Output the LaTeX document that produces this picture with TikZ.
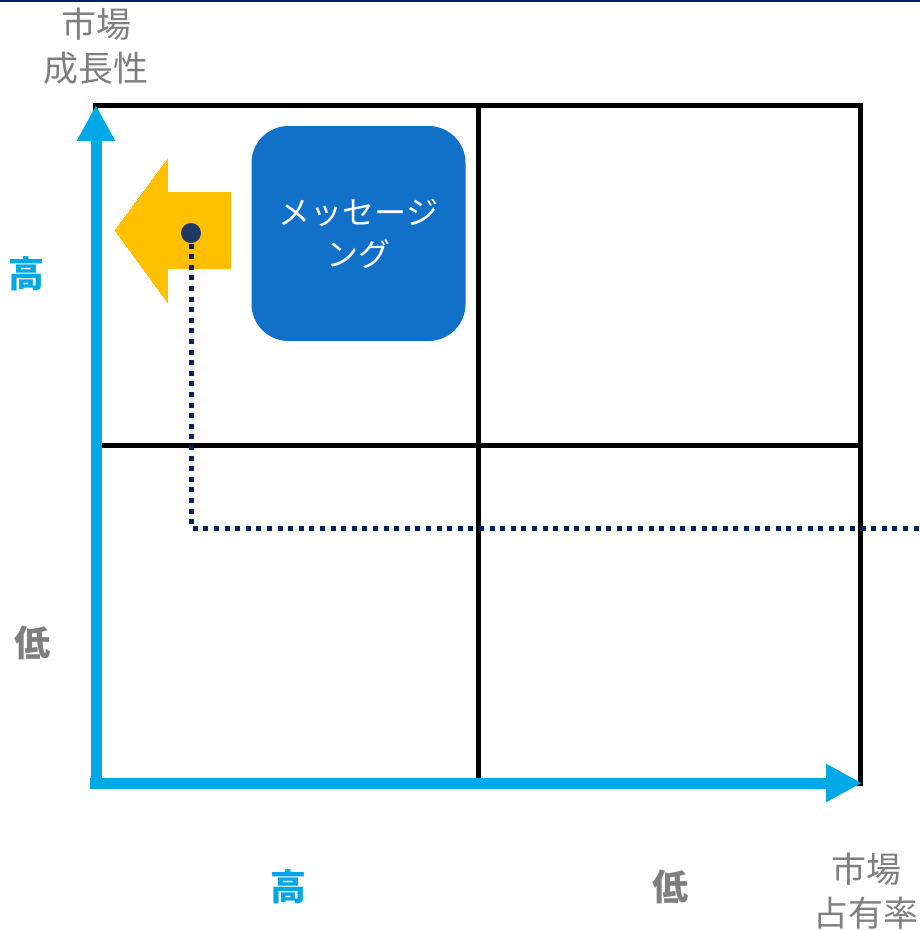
\documentclass[tikz,border=0pt]{standalone}
\usepackage{fontspec}
\usepackage{xcolor}
\usepackage{tikz}
\usetikzlibrary{arrows.meta}
\newfontfamily\jpfont{Noto Sans CJK JP}
\definecolor{axiscyan}{RGB}{0,168,230}
\definecolor{boxblue}{RGB}{17,112,200}
\definecolor{arrowyellow}{RGB}{255,192,0}
\definecolor{dotnavy}{RGB}{31,56,100}
\definecolor{linenavy}{RGB}{0,32,96}
\definecolor{labelgray}{RGB}{127,127,127}

\begin{document}
\begin{tikzpicture}[x=1pt,y=-1pt,
		axisarrow/.style={axiscyan,line width=11pt,-{Triangle[length=36pt,width=36pt]}},
		gridline/.style={black,line width=5pt},
		axistext/.style={font=\jpfont\fontsize{35}{44}\selectfont,text=labelgray,align=center,inner sep=0pt},
		levelhigh/.style={font=\jpfont\bfseries\fontsize{36}{36}\selectfont,text=axiscyan,inner sep=0pt},
		levellow/.style={font=\jpfont\bfseries\fontsize{36}{36}\selectfont,text=labelgray,inner sep=0pt},
		msgbox/.style={fill=boxblue,rounded corners=37pt,minimum width=214pt,minimum height=215pt,
			text=white,align=center,font=\jpfont\fontsize{32}{42}\selectfont,
			preaction={draw=white,line width=12pt,rounded corners=37pt}}]
	% 背景
	\useasboundingbox (0,0) rectangle (920,930);
	\fill[white] (0,0) rectangle (920,930);
	\fill[linenavy] (0,0) rectangle (920,2);
	% 枠
	\coordinate (nw) at (95,105);
	\coordinate (se) at (860,783);
	\draw[gridline] (nw) rectangle (se);
	\draw[gridline] (478,105) -- (478,783);
	\draw[gridline] (95,445) -- (860,445);
	% 軸
	\coordinate (origin) at (96,789);
	\coordinate (ytop) at (96,105);
	\coordinate (xorigin) at (90,783);
	\coordinate (xend) at (862,783);
	\draw[axisarrow] (origin) -- (ytop);
	\draw[axisarrow] (xorigin) -- (xend);
	% 矢印とボックス
	\filldraw[fill=arrowyellow,draw=white,line width=0pt,
		preaction={draw=white,line width=14pt,line join=round}]
		(231,191) -- (168,191) -- (168,157) -- (114,230) -- (168,304) -- (168,269) -- (231,269) -- cycle;
	\node[msgbox] (msg) at (358.5,233.5) {メッセージ\\ング};
	% 点線
	\coordinate (dot) at (191,233);
	\coordinate (bend) at (191,528);
	\coordinate (lineend) at (920,528);
	\draw[linenavy,line width=5pt,dash pattern=on 5pt off 5.6pt] (dot) -- (bend) -- (lineend);
	\fill[dotnavy] (dot) circle[radius=10pt];
	% ラベル
	\node[axistext] (growth) at (96,46.5) {市場\\成長性};
	\node[axistext] (share) at (866,891) {市場\\占有率};
	\node[levelhigh] (yhigh) at (27,274) {高};
	\node[levellow] (ylow) at (33,643) {低};
	\node[levelhigh] (xhigh) at (288,887) {高};
	\node[levellow] (xlow) at (670,887) {低};
\end{tikzpicture}
\end{document}
